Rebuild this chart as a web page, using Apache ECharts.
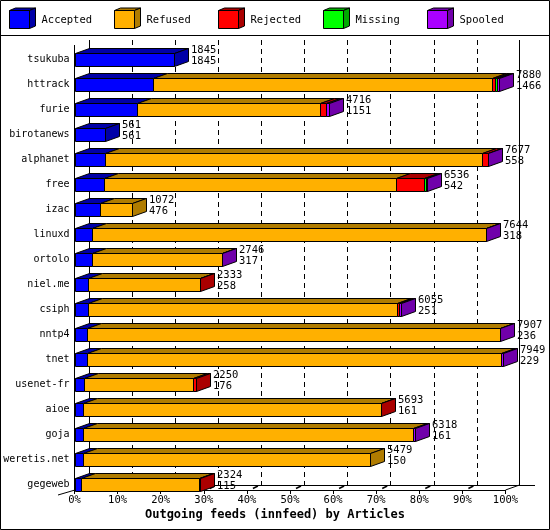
<!DOCTYPE html>
<html>
<head>
<meta charset="utf-8">
<script src="https://cdn.jsdelivr.net/npm/echarts@6/dist/echarts.min.js"></script>
<style>
html,body{margin:0;padding:0;background:#fff;}
#chart{width:550px;height:530px;}
</style>
</head>
<body>
<div id="chart"></div>
<script>
// ---- data ----
const categories = ['tsukuba','httrack','furie','birotanews','alphanet','free','izac','linuxd','ortolo','niel.me','csiph','nntp4','tnet','usenet-fr','aioe','goja','weretis.net','gegeweb'];
const totals   = [1845,7880,4716,561,7677,6536,1072,7644,2746,2333,6055,7907,7949,2250,5693,6318,5479,2324];
const accepted = [1845,1466,1151,561,558,542,476,318,317,258,251,236,229,176,161,161,150,115];
const refused  = [0,6292,3412,0,7005,5432,596,7321,2420,2065,5729,7661,7690,2023,5527,6120,5329,2189];
const rejected = [0,55,99,0,104,513,0,0,0,10,37,0,0,51,5,0,0,20];
const missing  = [0,37,0,0,0,40,0,0,0,0,0,0,0,0,0,0,0,0];
const spooled  = [0,30,54,0,10,9,0,5,9,0,38,10,30,0,0,37,0,0];
const seriesNames = ['Accepted','Refused','Rejected','Missing','Spooled'];
const xTickLabels = ['0%','10%','20%','30%','40%','50%','60%','70%','80%','90%','100%'];
const xMax = 8000;
const xStep = 800;
const chartTitle = 'Outgoing feeds (innfeed) by Articles';

// ---- style ----
const frontColors = ['#0000ff','#ffb000','#ff0000','#00ff00','#aa00ff'];
const darkColors  = ['#0000a8','#b07c00','#aa0000','#00aa00','#7000aa'];
const FONT = '"DejaVu Sans Mono", monospace';
const FS = 10;
const DX = 14, DY = 5;

const stacks = [accepted, refused, rejected, missing, spooled];

function segData(s) {
  return categories.map(function (c, i) {
    let start = 0;
    for (let k = 0; k < s; k++) start += stacks[k][i];
    const end = start + stacks[s][i];
    let last = stacks[s][i] > 0 ? 1 : 0;
    for (let k = s + 1; k < stacks.length; k++) if (stacks[k][i] > 0) last = 0;
    return [i, start, end, last];
  });
}

function makeRender(s) {
  return function (params, api) {
    const ci = api.value(0), st = api.value(1), en = api.value(2), last = api.value(3);
    if (en - st <= 0) return;
    const p0 = api.coord([st, ci]);
    const p1 = api.coord([en, ci]);
    const h = api.size([0, 1])[1] * 0.5;
    const x0 = Math.round(p0[0]) + 0.5, x1 = Math.round(p1[0]) + 0.5;
    const yT = Math.round(p0[1] - h / 2) + 0.5, yB = Math.round(p0[1] + h / 2) + 0.5;
    const lineStyle = {stroke: '#000', lineWidth: 1};
    const children = [
      {type: 'polygon', shape: {points: [[x0, yT], [x0 + DX, yT - DY], [x1 + DX, yT - DY], [x1, yT]]},
       style: Object.assign({fill: darkColors[s]}, lineStyle)},
      {type: 'rect', shape: {x: x0, y: yT, width: x1 - x0, height: yB - yT},
       style: Object.assign({fill: frontColors[s]}, lineStyle)}
    ];
    if (last) {
      children.push({type: 'polygon', shape: {points: [[x1, yT], [x1 + DX, yT - DY], [x1 + DX, yB - DY], [x1, yB]]},
        style: Object.assign({fill: darkColors[s]}, lineStyle)});
    }
    return {type: 'group', children: children};
  };
}

const series = seriesNames.map(function (name, s) {
  return {
    name: name, type: 'custom', xAxisIndex: 0, yAxisIndex: 0,
    renderItem: makeRender(s), data: segData(s),
    encode: {x: [1, 2], y: 0}, z: 3
  };
});

series.push({
  name: 'labels', type: 'custom', xAxisIndex: 0, yAxisIndex: 0, z: 4,
  data: categories.map(function (c, i) { return [i, totals[i], accepted[i]]; }),
  encode: {x: 1, y: 0},
  renderItem: function (params, api) {
    const p = api.coord([api.value(1), api.value(0)]);
    const x = Math.round(p[0]) + 17;
    return {type: 'group', children: [
      {type: 'text', style: {x: x, y: p[1] - 9.5, text: String(api.value(1)), fill: '#000', font: '10.5px ' + FONT, verticalAlign: 'middle', align: 'left'}},
      {type: 'text', style: {x: x, y: p[1] + 1.5, text: String(api.value(2)), fill: '#000', font: '10.5px ' + FONT, verticalAlign: 'middle', align: 'left'}}
    ]};
  }
});

// ---- frame & legend graphics ----
const graphics = [];
function L(x1, y1, x2, y2, w) {
  graphics.push({type: 'line', z: 1, shape: {x1: x1, y1: y1, x2: x2, y2: y2}, style: {stroke: '#000', lineWidth: w || 1}});
}
graphics.push({type: 'rect', z: 1, shape: {x: 0.5, y: 0.5, width: 549, height: 529}, style: {fill: null, stroke: '#000', lineWidth: 1}});
L(0, 35.5, 550, 35.5);
L(74.5, 45, 74.5, 490);
L(89.5, 40, 89.5, 485);
L(519.5, 40, 519.5, 485);
L(89, 485.5, 535, 485.5);
L(505.5, 490, 519.5, 485);
L(58, 495, 75, 490);
for (let k = 1; k < xTickLabels.length - 1; k++) {
  const xf = 74.5 + 431 * k / (xTickLabels.length - 1);
  L(xf + 6, 488.5, xf + 11, 486, 1.5);
}
seriesNames.forEach(function (name, i) {
  const x0 = Math.round(10 + 104.6 * i) - 0.5;
  const yT = 10.5, yB = 28.5, w = 20, dx = 6, dy = 2.5;
  const ls = {stroke: '#000', lineWidth: 1};
  graphics.push({type: 'polygon', z: 5, shape: {points: [[x0, yT], [x0 + dx, yT - dy], [x0 + w + dx, yT - dy], [x0 + w, yT]]}, style: Object.assign({fill: darkColors[i]}, ls)});
  graphics.push({type: 'polygon', z: 5, shape: {points: [[x0 + w, yT], [x0 + w + dx, yT - dy], [x0 + w + dx, yB - dy], [x0 + w, yB]]}, style: Object.assign({fill: darkColors[i]}, ls)});
  graphics.push({type: 'rect', z: 5, shape: {x: x0, y: yT, width: w, height: yB - yT}, style: Object.assign({fill: frontColors[i]}, ls)});
  graphics.push({type: 'text', z: 5, style: {x: x0 + 32, y: 20, text: name, fill: '#000', font: '10.5px ' + FONT, verticalAlign: 'middle', align: 'left'}});
});

const chart = echarts.init(document.getElementById('chart'), null, {renderer: 'canvas'});
chart.setOption({
  animation: false,
  backgroundColor: '#fff',
  title: {text: chartTitle, left: 'center', top: 509, padding: 0,
          textStyle: {fontFamily: FONT, fontSize: 12, fontWeight: 'bold', color: '#000'}},
  grid: [
    {left: 74.5, width: 431, top: 47, height: 450, containLabel: false, outerBoundsMode: 'none'},
    {left: 89, width: 431, top: 40, height: 445, containLabel: false, outerBoundsMode: 'none'}
  ],
  xAxis: [
    {type: 'value', gridIndex: 0, min: 0, max: xMax, interval: xStep, offset: -7,
     axisLine: {show: true, lineStyle: {color: '#000', width: 1}},
     axisTick: {show: true, length: 4, lineStyle: {color: '#000'}},
     splitLine: {show: false},
     axisLabel: {margin: 5, color: '#000', fontFamily: FONT, fontSize: 10.5,
                 formatter: function (v) { return xTickLabels[Math.round(v / xStep)]; }}},
    {type: 'value', gridIndex: 1, min: 0, max: xMax, interval: xStep,
     axisLine: {show: false}, axisTick: {show: false}, axisLabel: {show: false},
     splitLine: {show: true, showMinLine: false, showMaxLine: false,
                 lineStyle: {color: '#000', width: 1, type: [5, 4]}}}
  ],
  yAxis: [
    {type: 'category', gridIndex: 0, data: categories, inverse: true,
     axisLine: {show: false}, axisTick: {show: false}, splitLine: {show: false},
     axisLabel: {margin: 5, color: '#000', fontFamily: FONT, fontSize: FS}},
    {type: 'value', gridIndex: 1, min: 0, max: 1, show: false, splitLine: {show: false}}
  ],
  graphic: {elements: graphics},
  series: series
});
</script>
</body>
</html>
